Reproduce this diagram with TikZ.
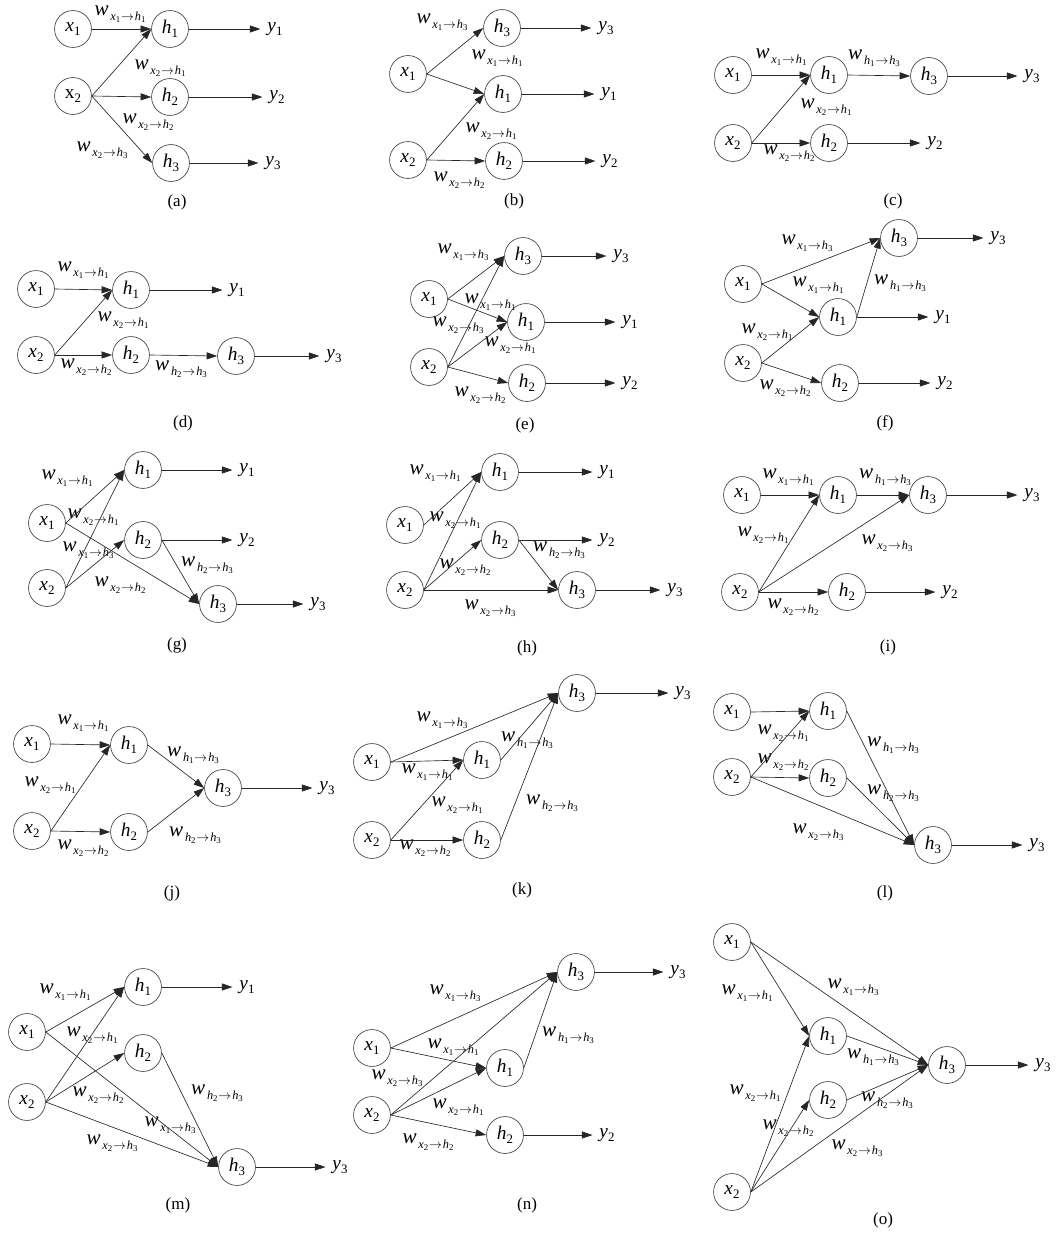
\documentclass[tikz,border=0pt]{standalone}
\usepackage{fontspec}
\setmainfont{Liberation Serif}
\usetikzlibrary{arrows.meta}
\newcommand\sbs[1]{\raisebox{-0.22em}{\fontsize{11}{11}\selectfont #1}}
\newcommand\nx[1]{\textit{x}\sbs{#1}}
\newcommand\nh[1]{\textit{h}\sbs{#1}}
\newcommand\ny[1]{\textit{y}\sbs{#1}}
\newcommand\ssb[1]{\raisebox{-1.8pt}{\fontsize{7.5}{8}\selectfont #1}}
\newcommand\wlab[4]{{\fontsize{18}{18}\selectfont\textit{w}}\kern1.5pt\raisebox{-4.5pt}{\fontsize{10.5}{11}\selectfont\textit{#1}\ssb{#2}\kern0.8pt$\rightarrow$\kern0.8pt\textit{#3}\ssb{#4}}}
\tikzset{
  nd/.style={circle, draw=black!70, line width=0.6pt, minimum size=31.5pt, inner sep=0pt, font=\fontsize{16.5}{16.5}\selectfont},
  outl/.style={inner sep=0pt, outer sep=6pt, font=\fontsize{16.5}{16.5}\selectfont},
  lab/.style={inner sep=0pt, font=\fontsize{16}{16}\selectfont},
  captxt/.style={inner sep=0pt, font=\fontsize{14.5}{14.5}\selectfont},
  arr/.style={-{Triangle[length=9pt,width=6pt]}, line width=0.55pt, draw=black!85}
}
\begin{document}
\begin{tikzpicture}[x=0.8537pt, y=-0.8537pt]
\useasboundingbox[fill=white] (0,0) rectangle (1056,1237);
% ---------------- (a)
\node[nd] (ax1) at (73,29) {\nx1};
\node[nd] (ah1) at (170,29) {\nh1};
\node[nd] (ax2) at (73,96) {x\sbs2};
\node[nd] (ah2) at (170,97) {\nh2};
\node[nd] (ah3) at (171,163) {\nh3};
\node[outl] (ay1) at (275,29) {\ny1};
\node[outl] (ay2) at (277,97) {\ny2};
\node[outl] (ay3) at (273,163) {\ny3};
\node[lab] (wa1) at (120,14) {\wlab x1h1};
\node[lab] (wa2) at (160,68) {\wlab x2h1};
\node[lab] (wa3) at (148,122) {\wlab x2h2};
\node[lab] (wa4) at (102,150) {\wlab x2h3};
\node[captxt] (capa) at (177,202) {(a)};
% ---------------- (b)
\node[nd] (bh3) at (502,28) {\nh3};
\node[nd] (bx1) at (408,74) {\nx1};
\node[nd] (bh1) at (503,94) {\nh1};
\node[nd] (bx2) at (408,160) {\nx2};
\node[nd] (bh2) at (504,161) {\nh2};
\node[outl] (by3) at (606,28) {\ny3};
\node[outl] (by1) at (609,94) {\ny1};
\node[outl] (by2) at (610,161) {\ny2};
\node[lab] (wb1) at (442,22) {\wlab x1h3};
\node[lab] (wb2) at (497,58) {\wlab x1h1};
\node[lab] (wb3) at (491,131) {\wlab x2h1};
\node[lab] (wb4) at (459,180) {\wlab x2h2};
\node[captxt] (capb) at (514,201) {(b)};
% ---------------- (c)
\node[nd] (cx1) at (733,75) {\nx1};
\node[nd] (ch1) at (829,75) {\nh1};
\node[nd] (ch3) at (929,76) {\nh3};
\node[nd] (cx2) at (733,143) {\nx2};
\node[nd] (ch2) at (829,143) {\nh2};
\node[outl] (cy3) at (1032,76) {\ny3};
\node[outl] (cy2) at (935,143) {\ny2};
\node[lab] (wc1) at (781,57) {\wlab x1h1};
\node[lab] (wc2) at (874,58) {\wlab h1h3};
\node[lab] (wc3) at (826,107) {\wlab x2h1};
\node[lab] (wc4) at (789,153) {\wlab x2h2};
\node[captxt] (capc) at (893,201) {(c)};
% ---------------- (d)
\node[nd] (dx1) at (36,289) {\nx1};
\node[nd] (dh1) at (131,290) {\nh1};
\node[nd] (dx2) at (36,355) {\nx2};
\node[nd] (dh2) at (131,355) {\nh2};
\node[nd] (dh3) at (236,356) {\nh3};
\node[outl] (dy1) at (237,290) {\ny1};
\node[outl] (dy3) at (334,356) {\ny3};
\node[lab] (wd1) at (83,270) {\wlab x1h1};
\node[lab] (wd2) at (123,320) {\wlab x2h1};
\node[lab] (wd3) at (86,367) {\wlab x2h2};
\node[lab] (wd4) at (181,369) {\wlab h2h3};
\node[captxt] (capd) at (183,423) {(d)};
% ---------------- (e)
\node[nd] (eh3) at (523,256) {\nh3};
\node[nd] (ex1) at (429,299) {\nx1};
\node[nd] (eh1) at (526,322) {\nh1};
\node[nd] (ex2) at (429,367) {\nx2};
\node[nd] (eh2) at (527,383) {\nh2};
\node[outl] (ey3) at (621,256) {\ny3};
\node[outl] (ey1) at (630,322) {\ny1};
\node[outl] (ey2) at (630,383) {\ny2};
\node[lab] (we1) at (463,252) {\wlab x1h3};
\node[lab] (we2) at (490,302) {\wlab x1h1};
\node[lab] (we3) at (458,325) {\wlab x2h3};
\node[lab] (we4) at (510,345) {\wlab x2h1};
\node[lab] (we5) at (480,395) {\wlab x2h2};
\node[captxt] (cape) at (525,425) {(e)};
% ---------------- (f)
\node[nd] (fh3) at (899,238) {\nh3};
\node[nd] (fx1) at (743,284) {\nx1};
\node[nd] (fh1) at (838,317) {\nh1};
\node[nd] (fx2) at (743,363) {\nx2};
\node[nd] (fh2) at (840,383) {\nh2};
\node[outl] (fy3) at (998,238) {\ny3};
\node[outl] (fy1) at (943,317) {\ny1};
\node[outl] (fy2) at (945,383) {\ny2};
\node[lab] (wf1) at (807,243) {\wlab x1h3};
\node[lab] (wf2) at (818,285) {\wlab x1h1};
\node[lab] (wf3) at (900,283) {\wlab h1h3};
\node[lab] (wf4) at (767,332) {\wlab x2h1};
\node[lab] (wf5) at (785,388) {\wlab x2h2};
\node[captxt] (capf) at (885,423) {(f)};
% ---------------- (g)
\node[nd] (gh1) at (143,470) {\nh1};
\node[nd] (gx1) at (47,523) {\nx1};
\node[nd] (gh2) at (143,540) {\nh2};
\node[nd] (gx2) at (47,588) {\nx2};
\node[nd] (gh3) at (218,604) {\nh3};
\node[outl] (gy1) at (247,470) {\ny1};
\node[outl] (gy2) at (247,540) {\ny2};
\node[outl] (gy3) at (318,604) {\ny3};
\node[lab] (wg1) at (67,478) {\wlab x1h1};
\node[lab] (wg2) at (93,517) {\wlab x2h1};
\node[lab] (wg3) at (88,550) {\wlab x1h3};
\node[lab] (wg4) at (120,585) {\wlab x2h2};
\node[lab] (wg5) at (207,565) {\wlab h2h3};
\node[captxt] (capg) at (177,645) {(g)};
% ---------------- (h)
\node[nd] (hh1) at (500,472) {\nh1};
\node[nd] (hx1) at (405,525) {\nx1};
\node[nd] (hh2) at (500,540) {\nh2};
\node[nd] (hx2) at (405,590) {\nx2};
\node[nd] (hh3) at (577,590) {\nh3};
\node[outl] (hy1) at (607,472) {\ny1};
\node[outl] (hy2) at (607,540) {\ny2};
\node[outl] (hy3) at (675,590) {\ny3};
\node[lab] (wh1) at (435,473) {\wlab x1h1};
\node[lab] (wh2) at (455,520) {\wlab x2h1};
\node[lab] (wh3) at (465,567) {\wlab x2h2};
\node[lab] (wh4) at (559,550) {\wlab h2h3};
\node[lab] (wh5) at (490,608) {\wlab x2h3};
\node[captxt] (caph) at (527,648) {(h)};
% ---------------- (i)
\node[nd] (ix1) at (742,495) {\nx1};
\node[nd] (ih1) at (838,495) {\nh1};
\node[nd] (ih3) at (928,495) {\nh3};
\node[nd] (ix2) at (740,592) {\nx2};
\node[nd] (ih2) at (847,592) {\nh2};
\node[outl] (iy3) at (1032,495) {\ny3};
\node[outl] (iy2) at (950,592) {\ny2};
\node[lab] (wi1) at (788,477) {\wlab x1h1};
\node[lab] (wi2) at (885,477) {\wlab h1h3};
\node[lab] (wi3) at (763,535) {\wlab x2h1};
\node[lab] (wi4) at (887,543) {\wlab x2h3};
\node[lab] (wi5) at (793,607) {\wlab x2h2};
\node[captxt] (capi) at (888,647) {(i)};
% ---------------- (j)
\node[nd] (jx1) at (32,744) {\nx1};
\node[nd] (jh1) at (129,745) {\nh1};
\node[nd] (jh3) at (223,788) {\nh3};
\node[nd] (jx2) at (32,831) {\nx2};
\node[nd] (jh2) at (129,832) {\nh2};
\node[outl] (jy3) at (327,788) {\ny3};
\node[lab] (wj1) at (83,723) {\wlab x1h1};
\node[lab] (wj2) at (50,785) {\wlab x2h1};
\node[lab] (wj3) at (83,848) {\wlab x2h2};
\node[lab] (wj4) at (193,755) {\wlab h1h3};
\node[lab] (wj5) at (195,835) {\wlab h2h3};
\node[captxt] (capj) at (172,893) {(j)};
% ---------------- (k)
\node[nd] (kh3) at (577,693) {\nh3};
\node[nd] (kx1) at (372,762) {\nx1};
\node[nd] (kh1) at (482,760) {\nh1};
\node[nd] (kx2) at (372,840) {\nx2};
\node[nd] (kh2) at (482,840) {\nh2};
\node[outl] (ky3) at (683,693) {\ny3};
\node[lab] (wk1) at (442,720) {\wlab x1h3};
\node[lab] (wk2) at (527,740) {\wlab h1h3};
\node[lab] (wk3) at (427,772) {\wlab x1h1};
\node[lab] (wk4) at (457,805) {\wlab x2h1};
\node[lab] (wk5) at (552,803) {\wlab h2h3};
\node[lab] (wk6) at (425,848) {\wlab x2h2};
\node[captxt] (capk) at (522,890) {(k)};
% ---------------- (l)
\node[nd] (lx1) at (732,712) {\nx1};
\node[nd] (lh1) at (828,711) {\nh1};
\node[nd] (lx2) at (732,777) {\nx2};
\node[nd] (lh2) at (828,778) {\nh2};
\node[nd] (lh3) at (933,845) {\nh3};
\node[outl] (ly3) at (1037,845) {\ny3};
\node[lab] (wl1) at (783,733) {\wlab x2h1};
\node[lab] (wl2) at (783,762) {\wlab x2h2};
\node[lab] (wl3) at (893,745) {\wlab h1h3};
\node[lab] (wl4) at (893,793) {\wlab h2h3};
\node[lab] (wl5) at (818,832) {\wlab x2h3};
\node[captxt] (capl) at (885,893) {(l)};
% ---------------- (m)
\node[nd] (mh1) at (143,987) {\nh1};
\node[nd] (mx1) at (27,1032) {\nx1};
\node[nd] (mh2) at (143,1053) {\nh2};
\node[nd] (mx2) at (27,1102) {\nx2};
\node[nd] (mh3) at (237,1167) {\nh3};
\node[outl] (my1) at (247,987) {\ny1};
\node[outl] (my3) at (340,1167) {\ny3};
\node[lab] (wm1) at (65,992) {\wlab x1h1};
\node[lab] (wm2) at (92,1035) {\wlab x2h1};
\node[lab] (wm3) at (98,1095) {\wlab x2h2};
\node[lab] (wm4) at (217,1093) {\wlab h2h3};
\node[lab] (wm5) at (170,1125) {\wlab x1h3};
\node[lab] (wm6) at (112,1143) {\wlab x2h3};
\node[captxt] (capm) at (178,1205) {(m)};
% ---------------- (n)
\node[nd] (nh3) at (576,972) {\nh3};
\node[nd] (nx1) at (372,1048) {\nx1};
\node[nd] (nh1) at (505,1068) {\nh1};
\node[nd] (nx2) at (372,1115) {\nx2};
\node[nd] (nh2) at (505,1135) {\nh2};
\node[outl] (ny3) at (678,972) {\ny3};
\node[outl] (ny2) at (607,1135) {\ny2};
\node[lab] (wn1) at (455,993) {\wlab x1h3};
\node[lab] (wn2) at (568,1035) {\wlab h1h3};
\node[lab] (wn3) at (453,1047) {\wlab x1h1};
\node[lab] (wn4) at (397,1078) {\wlab x2h3};
\node[lab] (wn5) at (458,1107) {\wlab x2h1};
\node[lab] (wn6) at (428,1142) {\wlab x2h2};
\node[captxt] (capn) at (527,1205) {(n)};
% ---------------- (o)
\node[nd] (ox1) at (732,942) {\nx1};
\node[nd] (oh1) at (828,1036) {\nh1};
\node[nd] (oh3) at (947,1065) {\nh3};
\node[nd] (oh2) at (828,1100) {\nh2};
\node[nd] (ox2) at (732,1192) {\nx2};
\node[outl] (oy3) at (1043,1065) {\ny3};
\node[lab] (wo1) at (747,993) {\wlab x1h1};
\node[lab] (wo2) at (853,987) {\wlab x1h3};
\node[lab] (wo3) at (873,1057) {\wlab h1h3};
\node[lab] (wo4) at (755,1093) {\wlab x2h1};
\node[lab] (wo5) at (887,1100) {\wlab h2h3};
\node[lab] (wo6) at (788,1128) {\wlab x2h2};
\node[lab] (wo7) at (857,1148) {\wlab x2h3};
\node[captxt] (capo) at (883,1220) {(o)};
% ---------------- connectors
\foreach \s/\t in {
  ax1/ah1, ax2/ah1, ax2/ah2, ax2/ah3, ah1/ay1, ah2/ay2, ah3/ay3,
  bx1/bh3, bx1/bh1, bx2/bh1, bx2/bh2, bh3/by3, bh1/by1, bh2/by2,
  cx1/ch1, ch1/ch3, cx2/ch1, cx2/ch2, ch3/cy3, ch2/cy2,
  dx1/dh1, dx2/dh1, dx2/dh2, dh2/dh3, dh1/dy1, dh3/dy3,
  ex1/eh3, ex1/eh1, ex2/eh3, ex2/eh1, ex2/eh2, eh3/ey3, eh1/ey1, eh2/ey2,
  fx1/fh3, fx1/fh1, fx2/fh1, fx2/fh2, fh1/fh3, fh3/fy3, fh1/fy1, fh2/fy2,
  gx1/gh1, gx1/gh3, gx2/gh1, gx2/gh2, gh2/gh3, gh1/gy1, gh2/gy2, gh3/gy3,
  hx1/hh1, hx2/hh1, hx2/hh2, hx2/hh3, hh2/hh3, hh1/hy1, hh2/hy2, hh3/hy3,
  ix1/ih1, ih1/ih3, ix2/ih1, ix2/ih3, ix2/ih2, ih3/iy3, ih2/iy2,
  jx1/jh1, jx2/jh1, jx2/jh2, jh1/jh3, jh2/jh3, jh3/jy3,
  kx1/kh3, kx1/kh1, kx2/kh1, kx2/kh2, kh1/kh3, kh2/kh3, kh3/ky3,
  lx1/lh1, lx2/lh1, lx2/lh2, lx2/lh3, lh1/lh3, lh2/lh3, lh3/ly3,
  mx1/mh1, mx1/mh3, mx2/mh1, mx2/mh2, mx2/mh3, mh2/mh3, mh1/my1, mh3/my3,
  nx1/nh3, nx1/nh1, nx2/nh3, nx2/nh1, nx2/nh2, nh1/nh3, nh3/ny3, nh2/ny2,
  ox1/oh1, ox1/oh3, oh1/oh3, oh2/oh3, ox2/oh1, ox2/oh2, ox2/oh3, oh3/oy3}
  \draw[arr] (\s.east) -- (\t.west);
\end{tikzpicture}
\end{document}
